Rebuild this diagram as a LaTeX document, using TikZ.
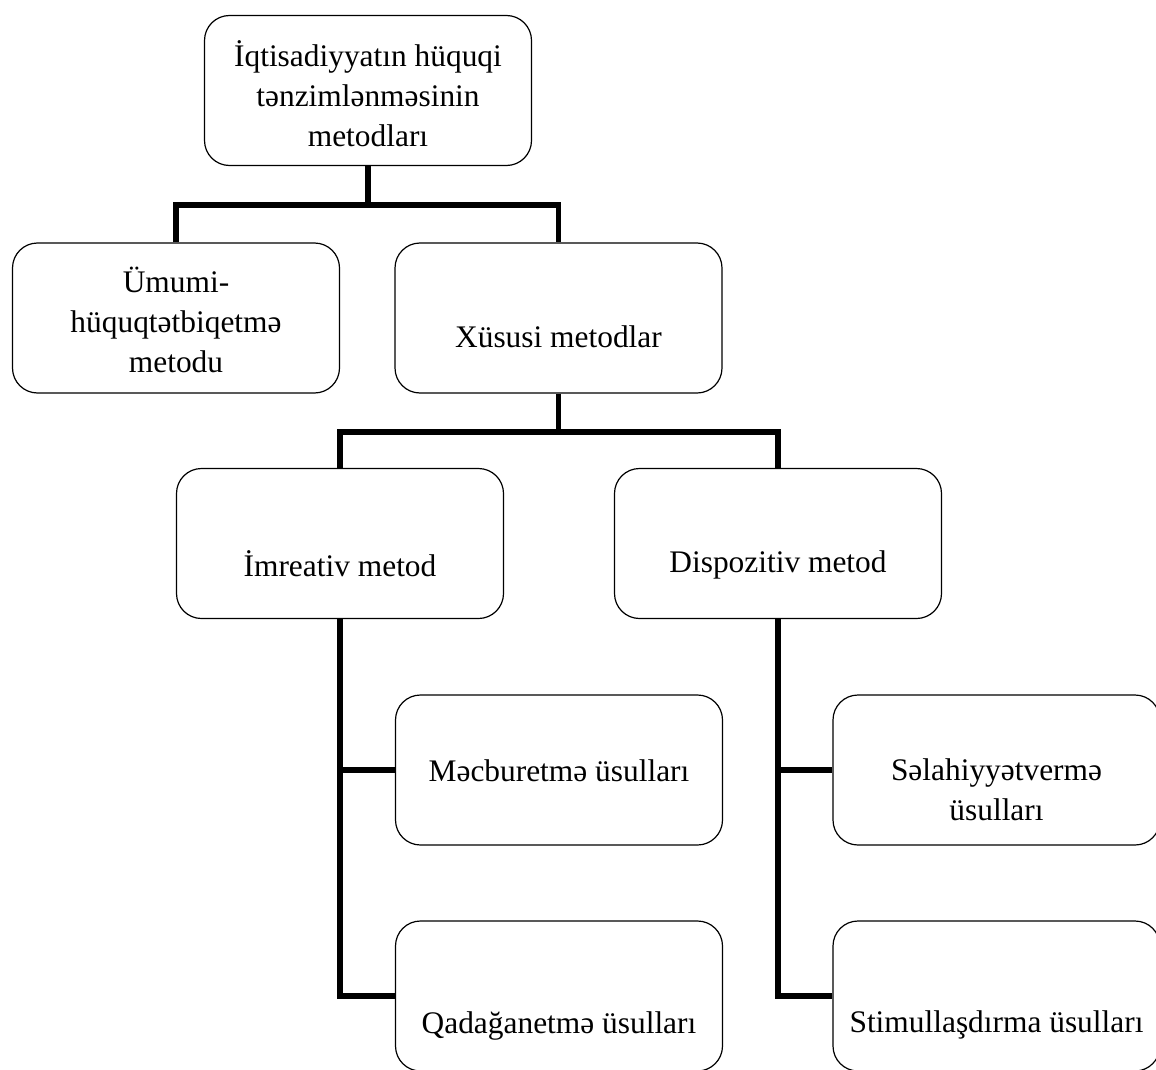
\documentclass[tikz,border=0pt]{standalone}
\usepackage{fontspec}
\setmainfont{Liberation Serif}
\usetikzlibrary{positioning}
\tikzset{
  box/.style={draw, line width=0.6pt, rounded corners=12.5pt, minimum width=163.5pt, minimum height=75pt},
  txt/.style={align=center, inner sep=0pt, font=\fontsize{15.7}{20}\selectfont},
  link/.style={line width=2.6pt}
}
\begin{document}
\begin{tikzpicture}[x=0.5pt, y=-0.5pt]
    \clip (0,0) rectangle (1156,1070);

    % top level
    \node[box] (top) at (368,90.5) {};
    \node[txt] (toptxt) at ([yshift=-1.5pt]top.center) {İqtisadiyyatın hüquqi\\tənzimlənməsinin\\metodları};

    % second level
    \node[box] (umumi) at (176,318) {};
    \node[txt] (umumitxt) at ([yshift=-1pt]umumi.center) {Ümumi-\\hüquqtətbiqetmə\\metodu};
    \node[box] (xususi) at (558.5,318) {};
    \node[txt] (xusutxt) at ([yshift=-9.5pt]xususi.center) {Xüsusi metodlar};

    % third level
    \node[box] (imrea) at (340,543.5) {};
    \node[txt] (imreatxt) at ([yshift=-10pt]imrea.center) {İmreativ metod};
    \node[box] (dispo) at (778,543.5) {};
    \node[txt] (dispotxt) at ([yshift=-10.5pt]dispo.center) {Dispozitiv metod};

    % fourth level
    \node[box] (mecbur) at (559,770) {};
    \node[txt] (mecburtxt) at ([yshift=-0.5pt]mecbur.center) {Məcburetmə üsulları};
    \node[box] (qadagan) at (559,996) {};
    \node[txt] (qadagantxt) at ([yshift=-15pt]qadagan.center) {Qadağanetmə üsulları};
    \node[box] (selahiy) at (996.5,770) {};
    \node[txt] (selahiytxt) at ([yshift=-10pt]selahiy.center) {Səlahiyyətvermə\\üsulları};
    \node[box] (stimul) at (996.5,996) {};
    \node[txt] (stimultxt) at ([yshift=-14.5pt]stimul.center) {Stimullaşdırma üsulları};

    % connectors
    \coordinate (j1) at (368,205);
    \coordinate (j2) at (558.5,432);
    \draw[link] (top.south) -- (j1);
    \draw[link] (umumi.north) |- (j1) -| (xususi.north);
    \draw[link] (xususi.south) -- (j2);
    \draw[link] (imrea.north) |- (j2) -| (dispo.north);
    \draw[link] (imrea.south) |- (mecbur.west);
    \draw[link] (imrea.south) |- (qadagan.west);
    \draw[link] (dispo.south) |- (selahiy.west);
    \draw[link] (dispo.south) |- (stimul.west);
\end{tikzpicture}
\end{document}
